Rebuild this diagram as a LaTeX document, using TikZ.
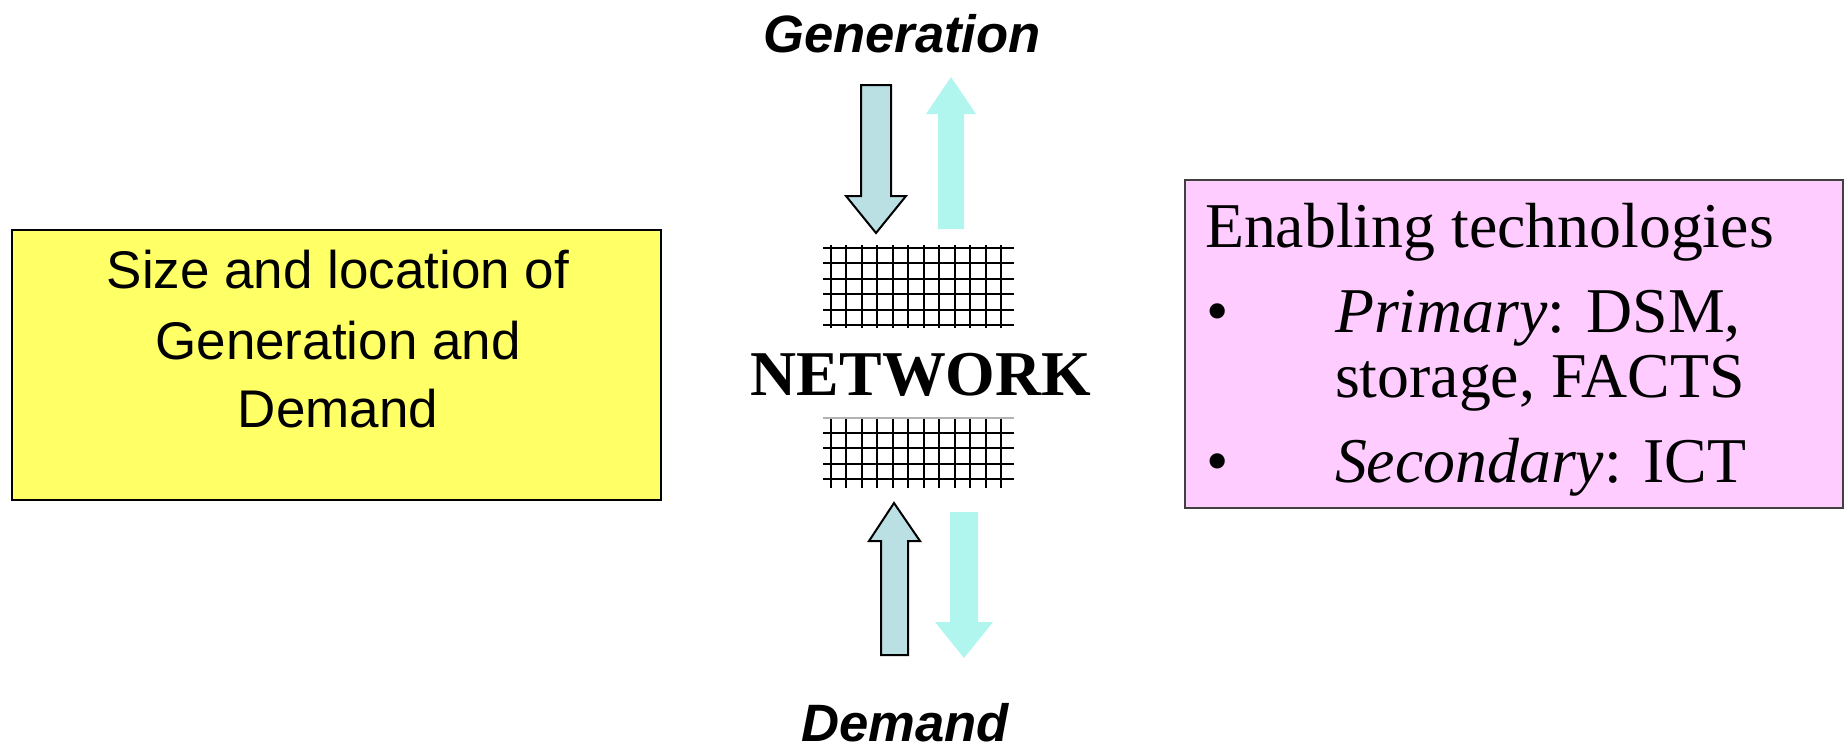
\documentclass[tikz,border=0pt]{standalone}
\usepackage{fontspec}
\setmainfont{Liberation Serif}
\newfontfamily\arialfont{Liberation Sans}
\definecolor{boxyellow}{RGB}{255,255,102}
\definecolor{boxpink}{RGB}{255,204,255}
\definecolor{arrowgrey}{RGB}{186,224,228}
\definecolor{arrowcyan}{RGB}{176,245,238}
\begin{document}
\begin{tikzpicture}[x=0.5pt,y=-0.5pt,
  lbl/.style={anchor=base,inner sep=0pt,outer sep=0pt},
  flowlbl/.style={lbl,font=\arialfont\bfseries\itshape\fontsize{26.3}{31}\selectfont},
  yeltxt/.style={lbl,font=\arialfont\fontsize{26.5}{32}\selectfont},
  pinktxt/.style={lbl,font=\fontsize{31.9}{38}\selectfont},
  netlbl/.style={lbl,font=\bfseries\fontsize{31.9}{38}\selectfont},
  boxyel/.style={draw=black,line width=0.8pt,fill=boxyellow},
  boxpnk/.style={draw=black!75,line width=0.8pt,fill=boxpink},
  outlinedarrow/.style={draw=black,line width=1pt,fill=arrowgrey},
  cyanarrow/.style={fill=arrowcyan},
  gridline/.style={line width=1pt,black}]
\useasboundingbox (0,0) rectangle (1845,744);

% boxes
\path[boxyel] (12,230) rectangle (661,500);
\path[boxpnk] (1185,180) rectangle (1843,508);

% yellow box text
\node[yeltxt] (y1) at (338,288) {Size and location of};
\node[yeltxt] (y2) at (338,359) {Generation and};
\node[yeltxt] (y3) at (338,427) {Demand};

% pink box text
\node[pinktxt,anchor=base west] (p1) at (1205,247) {Enabling technologies};
\node[pinktxt] (b1) at (1218,332) {\textbullet};
\node[pinktxt,anchor=base west] (p2) at (1335,332) {\textit{Primary}: DSM,};
\node[pinktxt,anchor=base west] (p3) at (1335,397) {storage, FACTS};
\node[pinktxt] (b2) at (1218,482) {\textbullet};
\node[pinktxt,anchor=base west] (p4) at (1335,482) {\textit{Secondary}: ICT};

% labels
\node[flowlbl] (gen) at (902,52) {Generation};
\node[flowlbl] (dem) at (905,741) {Demand};
\node[netlbl] (net) at (921,395) {NETWORK};

% arrows near Generation
\path[outlinedarrow] (861,85) -- (891,85) -- (891,196) -- (906,196) -- (876,233) -- (846,196) -- (861,196) -- cycle;
\path[cyanarrow] (938,229) -- (938,114) -- (926,114) -- (951,77) -- (976,114) -- (964,114) -- (964,229) -- cycle;
% arrows near Demand
\path[outlinedarrow] (881,655) -- (881,541) -- (869,541) -- (894,503) -- (920,541) -- (908,541) -- (908,655) -- cycle;
\path[cyanarrow] (950,512) -- (978,512) -- (978,622) -- (993,622) -- (964,658) -- (935,622) -- (950,622) -- cycle;

% top grid
\foreach \i in {0,...,11} {
  \draw[gridline] ({831+15.45*\i},245) -- ({831+15.45*\i},328);
}
\foreach \j in {0,...,5} {
  \draw[gridline] (823,{248+15.4*\j}) -- (1014,{248+15.4*\j});
}
% bottom grid
\foreach \i in {0,...,11} {
  \draw[gridline] ({831+15.45*\i},418) -- ({831+15.45*\i},488);
}
\draw[line width=1pt,black!30] (823,418) -- (1014,418);
\foreach \j in {1,...,4} {
  \draw[gridline] (823,{418+15.2*\j}) -- (1014,{418+15.2*\j});
}
\end{tikzpicture}
\end{document}
